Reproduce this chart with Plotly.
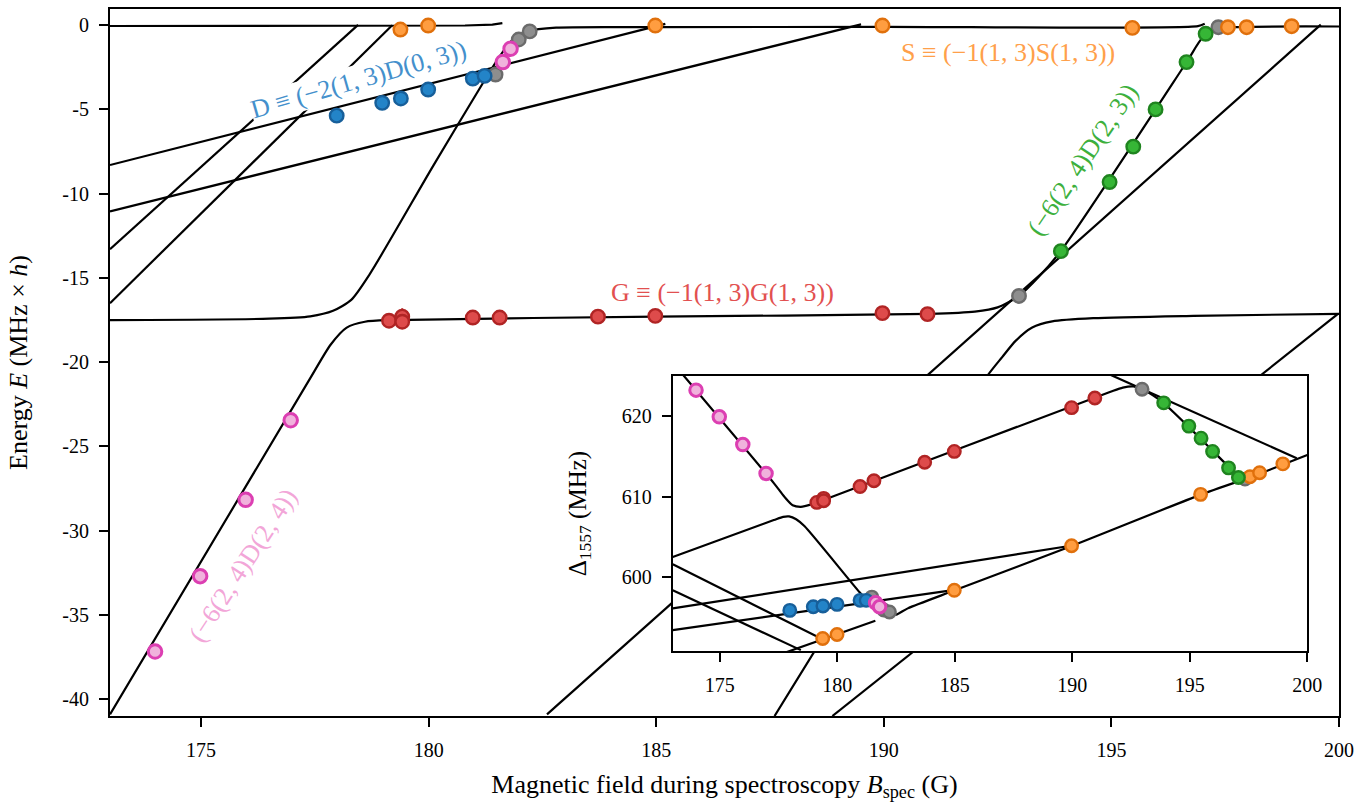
import plotly.graph_objects as go

# ---------------- main panel: bound-state energies E (MHz x h) vs field B (G) ----------------
s_left_B = [173.0, 180.8, 181.4, 181.62]
s_left_E = [-0.05, -0.02, 0.03, 0.12]

ramp_a_B = [173.0, 178.45]
ramp_a_E = [-13.3, 0.02]
ramp_b_B = [173.0, 179.2]
ramp_b_E = [-16.5, 0.0]

d_B = [173.0, 185.2]
d_E = [-8.3, 0.08]

par_B = [173.0, 189.5]
par_E = [-11.05, 0.05]

# G level on the left that turns into the steep state and ends on the S level
gs_B = [173.0, 176.5, 177.4, 177.9, 178.3, 178.7, 180.1, 181.2, 181.55, 181.85, 182.2, 182.8, 185.0, 190.0, 196.9, 197.05]
gs_E = [-17.5, -17.42, -17.28, -16.95, -16.3, -14.8, -8.35, -3.4, -1.9, -0.85, -0.35, -0.15, -0.12, -0.1, -0.06, 0.08]

# pink state -> G level -> green state -> S level on the right
pg_B = [173.0, 177.4, 177.85, 178.2, 178.6, 179.2, 185.0, 191.0, 192.0, 192.5, 192.97, 193.4, 193.89, 196.65, 197.0, 197.3, 197.7, 200.0]
pg_E = [-40.9, -20.95, -18.95, -17.95, -17.6, -17.5, -17.3, -17.13, -17.0, -16.75, -16.07, -14.95, -13.4, -2.2, -0.75, -0.25, -0.12, -0.08]

diag_B = [182.6, 199.6]
diag_E = [-40.9, 0.03]

e_B = [187.6, 192.25, 192.6, 192.9, 193.26, 193.7, 194.6, 196.8, 200.0]
e_E = [-41.0, -20.9, -19.7, -18.72, -17.94, -17.58, -17.39, -17.25, -17.13]

f_B = [188.87, 199.97]
f_E = [-41.0, -17.15]

# ---------------- inset: transition detuning Δ1557 (MHz) ----------------
i_pg_B = [173.0, 177.3, 177.75, 178.1, 178.45, 178.9, 179.5, 191.6, 192.15, 192.6, 193.0, 193.87, 196.7, 197.1, 197.4, 198.0, 200.0]
i_pg_D = [626.7, 611.7, 610.0, 608.95, 608.75, 609.05, 609.7, 623.05, 623.6, 623.75, 623.35, 621.7, 613.6, 612.45, 612.2, 612.9, 615.2]

i_diag_B = [191.5, 199.55]
i_diag_D = [625.35, 614.8]

i_par_B = [173.0, 189.94]
i_par_D = [596.1, 603.9]

i_d_B = [173.0, 185.0]
i_d_D = [593.4, 598.4]

i_ramp_a_B = [173.0, 178.45]
i_ramp_a_D = [598.35, 590.9]
i_ramp_b_B = [173.0, 179.2]
i_ramp_b_D = [601.6, 592.5]

i_s_left_B = [177.6, 181.62]
i_s_left_D = [590.4, 594.55]

i_gs_B = [173.0, 177.3, 177.7, 177.95, 178.25, 178.6, 180.95, 181.5, 181.85, 182.15, 182.5, 183.0, 185.0, 190.0, 195.5, 197.35]
i_gs_D = [602.5, 607.1, 607.5, 607.55, 607.2, 606.35, 598.1, 596.35, 595.55, 595.2, 595.3, 596.1, 598.35, 603.9, 610.3, 612.2]

# ---------------- measured states ----------------
gray_B = [181.47, 181.98, 182.22, 192.97, 197.35]
gray_E = [-2.93, -0.85, -0.37, -16.07, -0.12]
gray_D = [597.5, 595.9, 595.65, 623.4, 612.2]

red_B = [179.13, 179.42, 179.42, 180.97, 181.56, 183.72, 184.98, 189.97, 190.96]
red_E = [-17.54, -17.3, -17.6, -17.35, -17.35, -17.3, -17.25, -17.09, -17.15]
red_err = [0, 0.5, 0, 0, 0, 0, 0, 0, 0]
red_D = [609.3, 609.8, 609.5, 611.27, 612.0, 614.3, 615.65, 621.1, 622.3]

blue_B = [177.98, 178.98, 179.39, 179.99, 180.97, 181.23]
blue_E = [-5.37, -4.61, -4.35, -3.82, -3.17, -3.01]
blue_D = [595.85, 596.3, 596.4, 596.6, 597.1, 597.1]

orange_B = [179.38, 179.99, 184.98, 189.97, 195.46, 197.56, 197.97, 198.96]
orange_E = [-0.26, -0.02, -0.02, -0.02, -0.16, -0.12, -0.12, -0.06]
orange_D = [592.35, 592.85, 598.35, 603.9, 610.3, 612.5, 613.0, 614.1]

green_B = [193.89, 194.96, 195.48, 195.97, 196.65, 197.07]
green_E = [-13.41, -9.31, -7.21, -5.0, -2.19, -0.51]
green_D = [621.7, 618.8, 617.3, 615.65, 613.6, 612.4]

pink_B = [173.99, 174.98, 175.98, 176.97, 181.63, 181.8]
pink_E = [-37.17, -32.7, -28.17, -23.45, -2.19, -1.4]
pink_D = [623.28, 619.96, 616.5, 612.9, 596.8, 596.3]

x_ticks = [175, 180, 185, 190, 195, 200]
y_ticks = [0, -5, -10, -15, -20, -25, -30, -35, -40]
y_ticktext = ["0", "-5", "-10", "-15", "-20", "-25", "-30", "-35", "-40"]
inset_y_ticks = [600, 610, 620]

FONT = "'Liberation Serif', 'Times New Roman', 'DejaVu Serif', serif"

fig = go.Figure()


def curve(x, y, xa="x", ya="y", smooth=True):
    fig.add_trace(go.Scatter(
        x=x, y=y, mode="lines", xaxis=xa, yaxis=ya, hoverinfo="skip",
        line=dict(color="black", width=2.2,
                  shape="spline" if smooth else "linear", smoothing=0.7),
    ))


for cx, cy in [(s_left_B, s_left_E), (ramp_a_B, ramp_a_E), (ramp_b_B, ramp_b_E),
               (d_B, d_E), (par_B, par_E), (diag_B, diag_E), (f_B, f_E)]:
    curve(cx, cy, smooth=False)
for cx, cy in [(gs_B, gs_E), (pg_B, pg_E), (e_B, e_E)]:
    curve(cx, cy)

for cx, cy in [(i_diag_B, i_diag_D), (i_par_B, i_par_D), (i_d_B, i_d_D),
               (i_ramp_a_B, i_ramp_a_D), (i_ramp_b_B, i_ramp_b_D), (i_s_left_B, i_s_left_D)]:
    curve(cx, cy, "x2", "y2", smooth=False)
for cx, cy in [(i_pg_B, i_pg_D), (i_gs_B, i_gs_D)]:
    curve(cx, cy, "x2", "y2")

series = [
    (gray_B, gray_E, gray_D, "#8e8e8e", "#6b6b6b", 2.4),
    (red_B, red_E, red_D, "#de4b4b", "#b02424", 2.4),
    (blue_B, blue_E, blue_D, "#2384c8", "#175f9a", 2.4),
    (orange_B, orange_E, orange_D, "#ff9d40", "#e0700c", 2.4),
    (green_B, green_E, green_D, "#36b636", "#1f841f", 2.4),
    (pink_B, pink_E, pink_D, "#f0b2dc", "#dc3fb2", 3.0),
]
for bx, ey, dy, fill, edge, lw in series:
    err = None
    if bx is red_B:
        err = dict(type="data", array=red_err, symmetric=True, color=edge,
                   thickness=2, width=0)
    fig.add_trace(go.Scatter(
        x=bx, y=ey, mode="markers", xaxis="x", yaxis="y", error_y=err,
        marker=dict(size=13.5, color=fill, line=dict(color=edge, width=lw)),
    ))
    fig.add_trace(go.Scatter(
        x=bx, y=dy, mode="markers", xaxis="x2", yaxis="y2",
        marker=dict(size=12.5, color=fill, line=dict(color=edge, width=lw)),
    ))

labels = [
    ("D ≡ (−2(1, 3)D(0, 3))", 178.47, -3.2, -16, "#4490cc", True),
    ("S ≡ (−1(1, 3)S(1, 3))", 192.73, -1.6, 0, "#ffa04a", False),
    ("G ≡ (−1(1, 3)G(1, 3))", 186.45, -15.85, 0, "#e25050", False),
    ("(−6(2, 4)D(2, 3))", 194.38, -8.0, -56, "#3db03d", False),
    ("(−6(2, 4)D(2, 4))", 175.92, -32.07, -57, "#f2a6d8", False),
]
for text, lx, ly, ang, col, boxed in labels:
    fig.add_annotation(
        x=lx, y=ly, xref="x", yref="y", text=text, showarrow=False,
        textangle=ang, font=dict(family=FONT, size=26, color=col),
        bgcolor="white" if boxed else "rgba(0,0,0,0)", borderpad=0,
    )

axis_common = dict(
    showgrid=False, zeroline=False, showline=True, linecolor="black", linewidth=2,
    mirror=True, ticks="outside", ticklen=9, tickwidth=2, tickcolor="black",
    tickfont=dict(family=FONT, size=20, color="black"),
)

fig.update_layout(
    width=1371, height=802,
    margin=dict(l=110, r=32, t=7, b=86),
    paper_bgcolor="white", plot_bgcolor="white",
    showlegend=False,
    font=dict(family=FONT, size=20, color="black"),
    xaxis=dict(axis_common, domain=[0, 1], anchor="y", range=[173, 200],
               tickvals=x_ticks, ticklabelstandoff=6,
               title=dict(text="Magnetic field during spectroscopy <i>B</i><sub>spec</sub> (G)",
                          font=dict(family=FONT, size=26), standoff=16)),
    yaxis=dict(axis_common, domain=[0, 1], anchor="x", range=[-41.0, 0.96],
               tickvals=y_ticks, ticktext=y_ticktext, ticklabelstandoff=6,
               title=dict(text="Energy <i>E</i> (MHz × <i>h</i>)",
                          font=dict(family=FONT, size=26), standoff=27)),
    xaxis2=dict(axis_common, domain=[0.4579, 0.9742], anchor="y2", range=[173, 200],
                tickvals=x_ticks, ticklabelstandoff=6),
    yaxis2=dict(axis_common, domain=[0.0917, 0.481], anchor="x2", range=[590.77, 625.05],
                tickvals=inset_y_ticks, ticklabelstandoff=6,
                title=dict(text="Δ<sub>1557</sub> (MHz)", font=dict(family=FONT, size=25),
                           standoff=28)),
)

fig.write_html("out.html")
